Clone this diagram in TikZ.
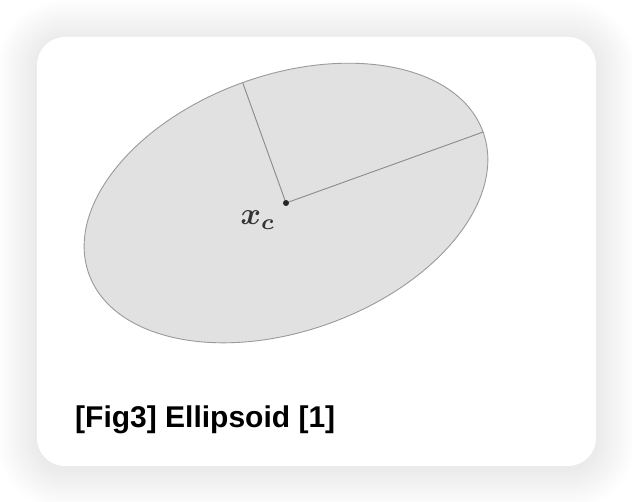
\documentclass[tikz,border=0pt]{standalone}
\usepackage{fontspec}
\usepackage{bm}
\usetikzlibrary{calc}
\newfontfamily\capfont{Liberation Sans}
\definecolor{ellfill}{HTML}{E1E1E1}
\definecolor{ellline}{HTML}{9A9A9A}
\definecolor{axisline}{HTML}{8A8A8A}
\tikzset{
  card/.style={fill=white, rounded corners=28pt},
  ellipsebody/.style={fill=ellfill, draw=ellline, line width=0.9pt},
  axisseg/.style={draw=axisline, line width=0.9pt},
  centerdot/.style={circle, fill=black!85, inner sep=0pt, minimum size=6pt},
}
\begin{document}
\begin{tikzpicture}[x=1pt,y=1pt]
\useasboundingbox (0,0) rectangle (632,502);
\fill[white] (0,0) rectangle (632,502);
% soft shadow
\foreach \r in {2,4,...,40}{
  \fill[black, opacity=0.0045, rounded corners={28pt+\r pt}] (37-\r,33-\r) rectangle (596+\r,462+\r);
}
\fill[card] (37,36) rectangle (596,465);
% ellipse
\coordinate (c) at (286,299);
\path[ellipsebody, rotate around={19.8:(c)}] (c) ellipse [x radius=209.5, y radius=128];
\coordinate (a) at ($(c)+(19.8:209.5)$);
\coordinate (b) at ($(c)+(109.8:128)$);
\draw[axisseg] (c) -- (a);
\draw[axisseg] (c) -- (b);
\node[centerdot] (cd) at (c) {};
\node[scale=3.1, text=black!80] (xc) at (258,282) {$\bm{x_c}$};
\node[anchor=base west, inner sep=0pt, font=\capfont\bfseries\fontsize{30}{36}\selectfont] (title) at (75,74) {[Fig3] Ellipsoid [1]};
\end{tikzpicture}
\end{document}
